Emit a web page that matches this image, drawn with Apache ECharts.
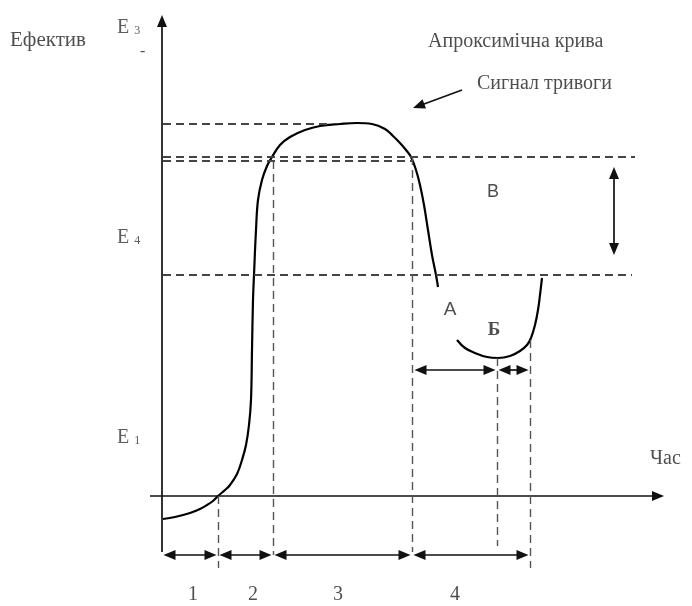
<!DOCTYPE html>
<html>
<head>
<meta charset="utf-8">
<script src="https://cdn.jsdelivr.net/npm/echarts@6/dist/echarts.min.js"></script>
<style>
html,body{margin:0;padding:0;background:#fff;}
#c{width:692px;height:606px;}
</style>
</head>
<body>
<div id="c"></div>
<script>
// ---- data (time t, effect E) ----
const mainCurve = [
  [1,-23],[13,-21],[28,-17],[38,-13],[45,-9],[51,-5],[56,0],[63,6],[68,11],[75,22],
  [80,36],[84,51],[87,71],[89,96],[90,146],[91,196],[92,221],[94,266],[96,296],[100,316],
  [105,330],[110,339],[118,351],[128,359],[143,366],[158,370],[178,372],[195,373],[210,372],
  [223,367],[231,360],[238,353],[244,346],[249,339],[254,326],[258,311],[262,291],[266,266],
  [270,241],[274,221],[276,209]
];
const recoveryCurve = [
  [295,156],[303,148],[313,143],[325,139],[336,138],[348,140],[358,145],[365,151],
  [369,158],[373,171],[376,186],[378,201],[380,218]
];
// horizontal guide levels: [E, tStart, tEnd]
const hLevels = [[372,1,168],[339,1,473],[335,1,251],[221,1,470]];
// vertical guides: [t, Etop, Ebottom]
const vGuides = [[56,0,-72],[111,335,-59],[250,339,-56],[335,138,-50],[368,156,-72]];
// phases
const phaseBounds = [0,56,111,250,368];
const phaseLabels = ['1','2','3','4'];
const phaseLabelT = [31,91,176,293];
const subBounds = [251,335,368];
// effect level tick labels
const levelNames = ['3','4','1'];
const levelE = [468,258,58];

// ---- build ----
const dash = {type:[8,5], color:'#444', width:1.8};
const vdash = {type:[8,5], color:'#555', width:1.4};
const solid = {type:'solid', color:'#111', width:1.7};
const HEAD = 12;
function seg(a,b,style,s0,s1){
  // a,b are arrow tips; shift endpoints so triangle tips land on them
  const dx=b[0]-a[0], dy=b[1]-a[1], L=Math.hypot(dx,dy), ux=dx/L, uy=dy/L, h=HEAD/2;
  const A = s0 ? [a[0]+ux*h, a[1]+uy*h] : a;
  const B = s1 ? [b[0]-ux*h, b[1]-uy*h] : b;
  return [{coord:A, symbol:s0?'triangle':'none', lineStyle:style},{coord:B, symbol:s1?'triangle':'none'}];
}
const ml = [];
ml.push(seg([0,-56],[0,481],solid,false,true));
ml.push(seg([-12,0],[502,0],solid,false,true));
hLevels.forEach(h=>ml.push(seg([h[1],h[0]],[h[2],h[0]],dash)));
vGuides.forEach(v=>ml.push(seg([v[0],v[1]],[v[0],v[2]],vdash)));
const rowE = -59, subRowE = 126;
for(let i=0;i<phaseBounds.length-1;i++){
  ml.push(seg([phaseBounds[i]+1.5,rowE],[phaseBounds[i+1]-1.5,rowE],solid,true,true));
}
for(let i=0;i<subBounds.length-1;i++){
  ml.push(seg([subBounds[i]+1.5,subRowE],[subBounds[i+1]-1.5,subRowE],solid,true,true));
}
ml.push(seg([452,241],[452,329],solid,true,true));
ml.push(seg([300,406],[251,388],solid,false,true));

const serif = '"Liberation Serif","DejaVu Serif",serif';
const sans = '"Liberation Sans",Arial,sans-serif';
const texts = [];
function txt(t,e,str,opt){
  texts.push({value:[t,e], label:Object.assign({show:true, position:'inside', formatter:str,
    fontFamily:serif, fontSize:20, color:'#222', align:'left', verticalAlign:'middle'},opt||{})});
}
txt(-152,456,'Ефектив',{fontSize:21});
levelNames.forEach((n,i)=>{
  txt(-45,levelE[i],'{e|E} {s|'+n+'}',{rich:{e:{fontFamily:serif,fontSize:20,color:'#333'},s:{fontFamily:serif,fontSize:12,color:'#333',padding:[5,0,0,0]}}});
});
txt(-22,444,'-',{fontSize:16});
txt(266,454,'Апроксимічна крива',{fontSize:20});
txt(315,412,'Сигнал тривоги',{fontSize:20});
txt(488,37,'Час',{fontSize:20});
txt(331,304,'B',{fontFamily:sans,fontSize:18,align:'center'});
txt(288,186,'A',{fontFamily:sans,fontSize:19,align:'center'});
txt(332,166,'Б',{fontSize:19,fontWeight:'bold',align:'center'});
phaseLabels.forEach((p,i)=>txt(phaseLabelT[i],-99,p,{fontSize:20,align:'center'}));

const chart = echarts.init(document.getElementById('c'));
chart.setOption({
  animation:false,
  backgroundColor:'#fff',
  grid:{left:0,right:0,top:0,bottom:0},
  xAxis:{type:'value',min:-162,max:530,show:false},
  yAxis:{type:'value',min:-110,max:496,show:false},
  series:[
    {type:'line', data:mainCurve, smooth:0.4, showSymbol:false, lineStyle:{color:'#000',width:2.2},
     silent:true,
     markLine:{silent:true, animation:false, symbolSize:[10,HEAD], label:{show:false}, emphasis:{disabled:true}, data:ml}},
    {type:'line', data:recoveryCurve, smooth:0.4, showSymbol:false, lineStyle:{color:'#000',width:2.2}, silent:true},
    {type:'scatter', data:texts, symbolSize:0, silent:true}
  ]
});
</script>
</body>
</html>
